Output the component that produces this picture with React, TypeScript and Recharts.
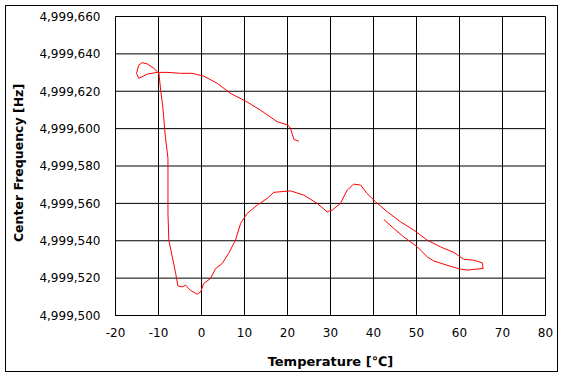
import { CartesianGrid, Label, Line, LineChart, XAxis, YAxis } from "recharts";

// in drawing order
const temperature = [
  22.6, 21.5, 20.7, 20.1, 17.6, 13.7, 10.2, 6.7, 3.7, 0.5, -2.2, -4.9, -8.0, -10.3, -12.6,
  -14.6, -15.1, -14.6, -13.8, -12.6, -11.1, -9.9,
  -9.5, -9.0, -8.4, -7.8, -7.8, -7.6, -6.8, -6.0, -5.5, -4.5, -3.7, -2.6, -1.0, -0.2,
  0.5, 2.1, 3.3, 4.8, 6.3, 7.9, 9.1, 10.6, 13.0, 15.3, 16.8, 20.7, 23.8, 26.9, 29.2,
  30.4, 32.3, 33.9, 35.4, 37.0, 38.5, 40.5, 43.2, 46.3, 49.4, 52.5, 55.6, 58.7, 61.0,
  63.3, 65.3, 65.5, 61.8, 60.2, 57.1, 54.0, 52.5, 50.2, 47.0, 44.7, 42.4
];
const frequency = [
  4999593.3, 4999594.2, 4999600.1, 4999601.9, 4999603.7, 4999609.9, 4999614.8, 4999618.9,
  4999624.2, 4999628.1, 4999629.6, 4999629.6, 4999630.1, 4999630.1, 4999629.2,
  4999626.9, 4999629.6, 4999634.0, 4999635.3, 4999634.6, 4999632.3, 4999629.6,
  4999620.7, 4999611.7, 4999595.6, 4999584.1, 4999554.8, 4999540.3, 4999531.4, 4999522.5,
  4999515.9, 4999515.3, 4999516.2, 4999513.5, 4999511.4, 4999512.6,
  4999517.1, 4999519.8, 4999525.2, 4999527.8, 4999533.2, 4999540.3, 4999549.3, 4999554.6,
  4999559.1, 4999562.7, 4999565.9, 4999566.7, 4999564.4, 4999560.0, 4999555.5,
  4999556.4, 4999560.0, 4999567.1, 4999570.3, 4999569.8, 4999565.3, 4999560.8, 4999555.5,
  4999550.1, 4999545.7, 4999540.3, 4999536.7, 4999533.7, 4999530.1,
  4999529.6, 4999528.2, 4999525.2, 4999524.3, 4999524.8, 4999526.9, 4999529.2, 4999531.4,
  4999536.7, 4999542.1, 4999546.6, 4999551.4
];
const xTicks = [-20, -10, 0, 10, 20, 30, 40, 50, 60, 70, 80];
const yTicks = [4999500, 4999520, 4999540, 4999560, 4999580, 4999600, 4999620, 4999640, 4999660];

const data = temperature.map((t, i) => ({ t, f: frequency[i] }));

const fmt = (v: number) => v.toLocaleString("en-US");

const YTitle = () => (
  <text
    x={18.5}
    y={163}
    transform="rotate(-90 18.5 163)"
    textAnchor="middle"
    dominantBaseline="central"
    fontSize={12.5}
    fontWeight="bold"
    fill="#000"
  >
    Center Frequency [Hz]
  </text>
);

export default function App() {
  return (
    <div
      style={{
        position: "fixed",
        left: 0,
        top: 0,
        width: 569,
        height: 380,
        background: "#fff",
        fontFamily: "'DejaVu Sans', sans-serif"
      }}
    >
      <div
        style={{
          position: "absolute",
          left: 5,
          top: 5,
          width: 551,
          height: 365,
          border: "1px solid #000"
        }}
      />
      <LineChart
        width={569}
        height={380}
        data={data}
        margin={{ top: 16.5, right: 23.5, left: 0.5, bottom: 0 }}
        style={{ position: "absolute", left: 0, top: 0 }}
      >
        <CartesianGrid stroke="#000" strokeWidth={1} />
        <XAxis
          dataKey="t"
          type="number"
          domain={[-20, 80]}
          ticks={xTicks}
          height={64.5}
          tickLine={false}
          tickSize={0}
          tickMargin={13}
          axisLine={{ stroke: "#000" }}
          tick={{ fontSize: 12, fill: "#000" }}
        >
          <Label
            value="Temperature [℃]"
            position="insideBottom"
            offset={14}
            style={{ fontSize: 13, fontWeight: "bold", fill: "#000" }}
          />
        </XAxis>
        <YAxis
          dataKey="f"
          type="number"
          domain={[4999500, 4999660]}
          ticks={yTicks}
          width={115}
          tickLine={false}
          tickSize={0}
          tickMargin={15}
          tickFormatter={fmt}
          axisLine={{ stroke: "#000" }}
          tick={{ fontSize: 12, fill: "#000" }}
        >
          <Label content={YTitle} />
        </YAxis>
        <Line
          dataKey="f"
          type="linear"
          stroke="#ff0000"
          strokeWidth={1}
          dot={false}
          activeDot={false}
          isAnimationActive={false}
        />
      </LineChart>
    </div>
  );
}
